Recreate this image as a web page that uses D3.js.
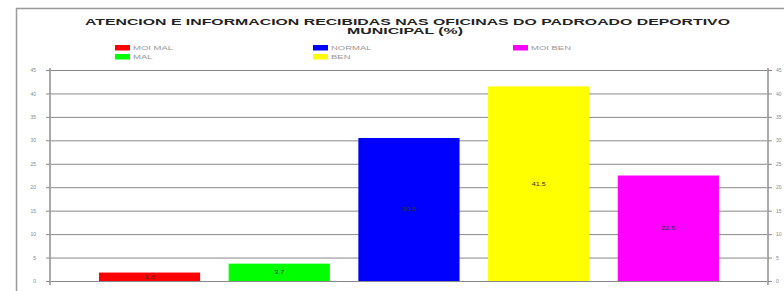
<!DOCTYPE html>
<html>
<head>
<meta charset="utf-8">
<script src="https://cdn.jsdelivr.net/npm/d3@7"></script>
<style>
  body { margin: 0; background: #fff; }
  svg { display: block; font-family: "Liberation Sans", Arial, sans-serif; }
</style>
</head>
<body>
<svg id="chart" width="784" height="291"></svg>
<script>
const categories = ["MOI MAL", "MAL", "NORMAL", "BEN", "MOI BEN"];
const values = [1.8, 3.7, 30.5, 41.5, 22.5];
const colors = ["#ff0000", "#00ff00", "#0000ff", "#ffff00", "#ff00ff"];
const yTicks = [0, 5, 10, 15, 20, 25, 30, 35, 40, 45];
const titleLines = ["ATENCION E INFORMACION RECIBIDAS NAS OFICINAS DO PADROADO DEPORTIVO", "MUNICIPAL (%)"];

const svgSpace = d3.select("#chart");
const largeur = 784, hauteur = 291;
const axeGauche = 50, axeDroit = 768;

// frame
svgSpace.append("rect")
    .attr("x", 16.5).attr("y", 8.5)
    .attr("width", largeur).attr("height", hauteur)
    .attr("fill", "none").attr("stroke", "#999").attr("stroke-width", 1.5);

const y = d3.scaleLinear().domain([0, 45]).range([281, 70]);
const x = d3.scaleBand().domain(categories).range([84.7, 733.2]).paddingInner(0.22).paddingOuter(0.11);

// grid lines
svgSpace.append("g")
    .selectAll("line")
    .data(yTicks)
    .enter()
    .append("line")
    .attr("x1", axeGauche).attr("x2", axeDroit)
    .attr("y1", (d) => y(d) + 0.5).attr("y2", (d) => y(d) + 0.5)
    .attr("stroke", "#888").attr("stroke-width", 1);

// left axis
const axisL = svgSpace.append("g")
    .attr("transform", "translate(" + axeGauche + ",0)")
    .call(d3.axisLeft(y).tickValues(yTicks).tickSize(4).tickPadding(10));
axisL.select(".domain").attr("stroke", "#aaa").attr("stroke-width", 2).attr("d", "M0,68V285");
axisL.selectAll(".tick line").attr("stroke", "#888");
axisL.selectAll("text").attr("fill", "#888").style("font-size", "5px");

// right axis
const axisR = svgSpace.append("g")
    .attr("transform", "translate(" + axeDroit + ",0)")
    .call(d3.axisRight(y).tickValues(yTicks).tickSize(4).tickPadding(4));
axisR.select(".domain").attr("stroke", "#aaa").attr("stroke-width", 2).attr("d", "M0,68V285");
axisR.selectAll(".tick line").attr("stroke", "#888");
axisR.selectAll("text").attr("fill", "#888").style("font-size", "5px");

// bars
svgSpace.append("g")
    .selectAll("rect")
    .data(values)
    .enter()
    .append("rect")
    .attr("x", (d, i) => x(categories[i]))
    .attr("y", (d) => y(d))
    .attr("width", x.bandwidth())
    .attr("height", (d) => y(0) - y(d))
    .attr("fill", (d, i) => colors[i]);

// value labels
svgSpace.append("g")
    .selectAll("text")
    .data(values)
    .enter()
    .append("text")
    .text((d) => d.toFixed(1))
    .attr("transform", (d, i) => "translate(" + (x(categories[i]) + x.bandwidth() / 2) + "," + ((y(d) + y(0)) / 2 + 2) + ") scale(1.6,1)")
    .attr("text-anchor", "middle")
    .style("font-size", "4.5px")
    .attr("fill", "#333");

// title (wide, heavy lettering)
const titleLen = [645, 116];
svgSpace.append("g")
    .selectAll("text")
    .data(titleLines)
    .enter()
    .append("text")
    .text((d) => d)
    .attr("x", (d, i) => i == 0 ? 85 : 347)
    .attr("y", (d, i) => 25 + i * 8.5)
    .attr("textLength", (d, i) => titleLen[i])
    .attr("lengthAdjust", "spacingAndGlyphs")
    .style("font-size", "8.5px")
    .style("font-weight", "bold")
    .attr("fill", "#222");

// legend
const legendPos = [[115, 47.5], [115, 56.5], [313, 47.5], [313, 56.5], [513, 47.5]];
const legend = svgSpace.append("g")
    .selectAll("g")
    .data(categories)
    .enter()
    .append("g")
    .attr("transform", (d, i) => "translate(" + legendPos[i][0] + "," + legendPos[i][1] + ")");
legend.append("rect")
    .attr("x", 0).attr("y", -2.5)
    .attr("width", 15).attr("height", 5.5)
    .attr("fill", (d, i) => colors[i]);
legend.append("text")
    .text((d) => d)
    .attr("transform", "translate(18,2) scale(1.9,1)")
    .style("font-size", "5px")
    .attr("fill", "#999");
</script>
</body>
</html>
